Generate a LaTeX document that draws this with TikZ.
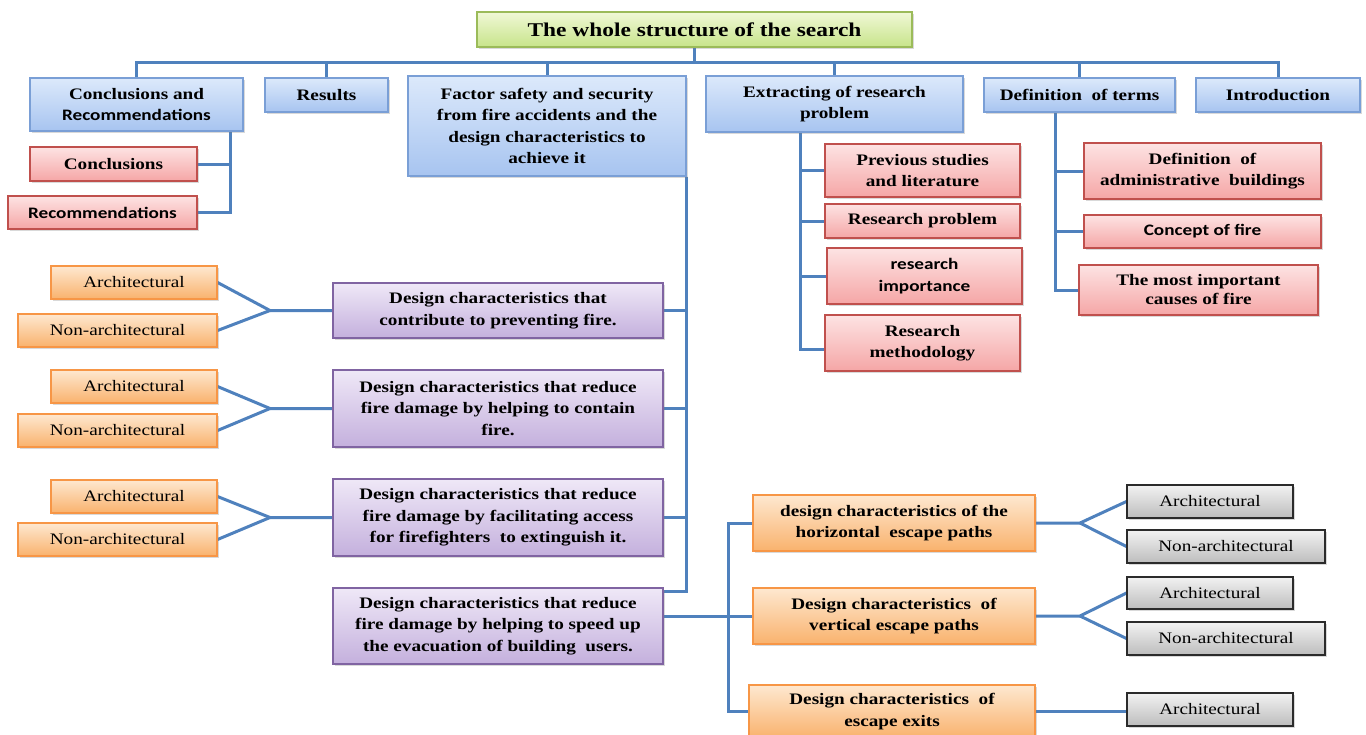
\documentclass[tikz,border=0pt]{standalone}
\usepackage{fontspec}
\setmainfont[FakeStretch=1.2]{Liberation Serif}
\newfontfamily\carl[FakeStretch=1.2]{Carlito}
\usetikzlibrary{shadows,backgrounds}
\definecolor{blueT}{HTML}{DCE9FB}\definecolor{blueB}{HTML}{A7C4F0}\definecolor{blueD}{HTML}{7A9FD6}
\definecolor{redT}{HTML}{FDE3E3}\definecolor{redB}{HTML}{F5A6A6}\definecolor{redD}{HTML}{C0504D}
\definecolor{orT}{HTML}{FEE8D0}\definecolor{orB}{HTML}{F9B26D}\definecolor{orD}{HTML}{F79646}
\definecolor{puT}{HTML}{EFE8F7}\definecolor{puB}{HTML}{C4B0DD}\definecolor{puD}{HTML}{8064A2}
\definecolor{grT}{HTML}{F2F2F2}\definecolor{grB}{HTML}{BDBDBD}\definecolor{grD}{HTML}{2B2B2B}
\definecolor{gnT}{HTML}{F0F8D6}\definecolor{gnB}{HTML}{C7E48A}\definecolor{gnD}{HTML}{9BBB59}
\definecolor{lineC}{HTML}{4F81BD}
\tikzset{
  box/.style={draw, line width=1.1pt, inner sep=1pt, align=center,
    font=\fontsize{16}{21.5}\selectfont\bfseries,
    drop shadow={shadow xshift=1.5pt, shadow yshift=-2pt, opacity=0.3}},
  bluebox/.style={box, draw=blueD, top color=blueT, bottom color=blueB},
  redbox/.style={box, draw=redD, top color=redT, bottom color=redB},
  orbox/.style={box, draw=orD, top color=orT, bottom color=orB},
  orleaf/.style={orbox, font=\fontsize{16}{18}\selectfont},
  pubox/.style={box, draw=puD, top color=puT, bottom color=puB},
  grbox/.style={box, draw=grD, top color=grT, bottom color=grB, font=\fontsize{16}{18}\selectfont},
  gnbox/.style={box, draw=gnD, top color=gnT, bottom color=gnB},
  sans/.style={font=\fontsize{16}{21.5}\selectfont\bfseries\carl},
  conn/.style={draw=lineC, line width=3pt, line join=miter}
}
\begin{document}
\begin{tikzpicture}[x=1pt,y=-1pt]
\useasboundingbox (0,0) rectangle (1366,734);
% title
\node[gnbox, minimum width=435, minimum height=35, font=\fontsize{19.5}{22}\selectfont\bfseries] (title) at (694.5,29.5) {The whole structure of the search};
% level 1
\node[bluebox, minimum width=213, minimum height=53] (cr) at (136.5,104.5) {Conclusions and\\{\carl Recommendations}};
\node[bluebox, minimum width=123, minimum height=34] (res) at (326.5,95) {Results};
\node[bluebox, minimum width=278, minimum height=100] (fac) at (547,126) {Factor safety and security\\from fire accidents and the\\design characteristics to\\achieve it};
\node[bluebox, minimum width=257, minimum height=56] (ext) at (834.5,104) {Extracting of research\\problem};
\node[bluebox, minimum width=191, minimum height=34] (def) at (1079.5,95) {Definition\ \ of terms};
\node[bluebox, minimum width=164, minimum height=34] (intro) at (1278,95) {Introduction};
% conclusions children
\node[redbox, minimum width=167, minimum height=34] (conc) at (113.5,164) {Conclusions};
\node[redbox, sans, minimum width=189, minimum height=33] (recs) at (102.5,212.5) {Recommendations};
% extracting children
\node[redbox, minimum width=195, minimum height=53] (prev) at (922.5,170.5) {Previous studies\\and literature};
\node[redbox, minimum width=195, minimum height=34] (rprob) at (922.5,221) {Research problem};
\node[redbox, sans, minimum width=195, minimum height=56] (rimp) at (924.5,276) {research\\importance};
\node[redbox, minimum width=195, minimum height=56] (rmeth) at (922.5,343) {Research\\methodology};
% definition children
\node[redbox, minimum width=237, minimum height=56] (dadm) at (1202.5,171) {Definition\ \ of\\administrative\ \ buildings};
\node[redbox, sans, minimum width=237, minimum height=33] (cfire) at (1202.5,231.5) {Concept of fire};
\node[redbox, minimum width=239, minimum height=50, font=\fontsize{16}{19}\selectfont\bfseries] (causes) at (1198.5,290) {The most important\\causes of fire};
% purple
\node[pubox, minimum width=330, minimum height=55] (p1) at (498,310.5) {Design characteristics that\\contribute to preventing fire.};
\node[pubox, minimum width=330, minimum height=77] (p2) at (498,408.5) {Design characteristics that reduce\\fire damage by helping to contain\\fire.};
\node[pubox, minimum width=330, minimum height=77] (p3) at (498,517.5) {Design characteristics that reduce\\fire damage by facilitating access\\for firefighters\ \ to extinguish it.};
\node[pubox, minimum width=330, minimum height=76] (p4) at (498,626) {Design characteristics that reduce\\fire damage by helping to speed up\\the evacuation of building\ \ users.};
% left leaves
\node[orleaf, minimum width=166, minimum height=33] (a1) at (134,282.5) {Architectural};
\node[orleaf, minimum width=199, minimum height=33] (n1) at (117.5,330.5) {Non-architectural};
\node[orleaf, minimum width=166, minimum height=33] (a2) at (134,386.5) {Architectural};
\node[orleaf, minimum width=199, minimum height=33] (n2) at (117.5,430.5) {Non-architectural};
\node[orleaf, minimum width=166, minimum height=33] (a3) at (134,496.5) {Architectural};
\node[orleaf, minimum width=199, minimum height=33] (n3) at (117.5,539.5) {Non-architectural};
% escape boxes
\node[orbox, minimum width=282, minimum height=56] (o1) at (894,523) {design characteristics of the\\horizontal\ \ escape paths};
\node[orbox, minimum width=282, minimum height=56] (o2) at (894,616) {Design characteristics\ \ of\\vertical escape paths};
\node[orbox, minimum width=286, minimum height=53] (o3) at (892,711.5) {Design characteristics\ \ of\\escape exits};
% gray leaves
\node[grbox, minimum width=166, minimum height=33] (g1) at (1210,501.5) {Architectural};
\node[grbox, minimum width=198, minimum height=33] (g2) at (1226,546.5) {Non-architectural};
\node[grbox, minimum width=166, minimum height=32] (g3) at (1210,593) {Architectural};
\node[grbox, minimum width=198, minimum height=33] (g4) at (1226,638.5) {Non-architectural};
\node[grbox, minimum width=166, minimum height=33] (g5) at (1210,709.5) {Architectural};
% coordinates
\coordinate (bus) at (694.5,62);
\coordinate (crv) at (230,131);
\coordinate (exv) at (800,133);
\coordinate (dv) at (1055,112);
\coordinate (ev) at (728,523);
\coordinate (f1) at (1080,523);
\coordinate (f2) at (1080,616);
\coordinate (l1) at (270,310.5);
\coordinate (l2) at (270,408.5);
\coordinate (l3) at (270,517.5);
% connectors
\begin{scope}[on background layer]
\draw[conn] (cr.north) |- (bus) -| (intro.north);
\draw[conn] (title.south) -- (bus);
\draw[conn] (res.north) -- (res.north |- bus);
\draw[conn] (fac.north) -- (fac.north |- bus);
\draw[conn] (ext.north) -- (ext.north |- bus);
\draw[conn] (def.north) -- (def.north |- bus);
\draw[conn] (crv) |- (recs.east);
\draw[conn] (conc.east) -- (conc.east -| crv);
\draw[conn] (exv) |- ([yshift=-6pt]rmeth.west);
\draw[conn] (prev.west) -- (prev.west -| exv);
\draw[conn] (rprob.west) -- (rprob.west -| exv);
\draw[conn] (rimp.west) -- (rimp.west -| exv);
\draw[conn] (dv) |- (causes.west);
\draw[conn] (dadm.west) -- (dadm.west -| dv);
\draw[conn] (cfire.west) -- (cfire.west -| dv);
\draw[conn] (fac.south east) |- ([yshift=-4pt]p4.north east);
\draw[conn] (p1.east) -- (p1.east -| fac.south east);
\draw[conn] (p2.east) -- (p2.east -| fac.south east);
\draw[conn] (p3.east) -- (p3.east -| fac.south east);
\draw[conn] (p4.east |- o2.west) -- (o2.west);
\draw[conn] (o1.west) -| (ev) |- (o3.west);
\draw[conn] (o1.east) -- (f1) -- (g1.west);
\draw[conn] (f1) -- (g2.west);
\draw[conn] (o2.east) -- (f2) -- (g3.west);
\draw[conn] (f2) -- (g4.west);
\draw[conn] (o3.east) -- (o3.east -| g5.west);
\draw[conn] (p1.west) -- (l1) -- (a1.east);
\draw[conn] (l1) -- (n1.east);
\draw[conn] (p2.west) -- (l2) -- (a2.east);
\draw[conn] (l2) -- (n2.east);
\draw[conn] (p3.west) -- (l3) -- (a3.east);
\draw[conn] (l3) -- (n3.east);
\end{scope}
\end{tikzpicture}
\end{document}
